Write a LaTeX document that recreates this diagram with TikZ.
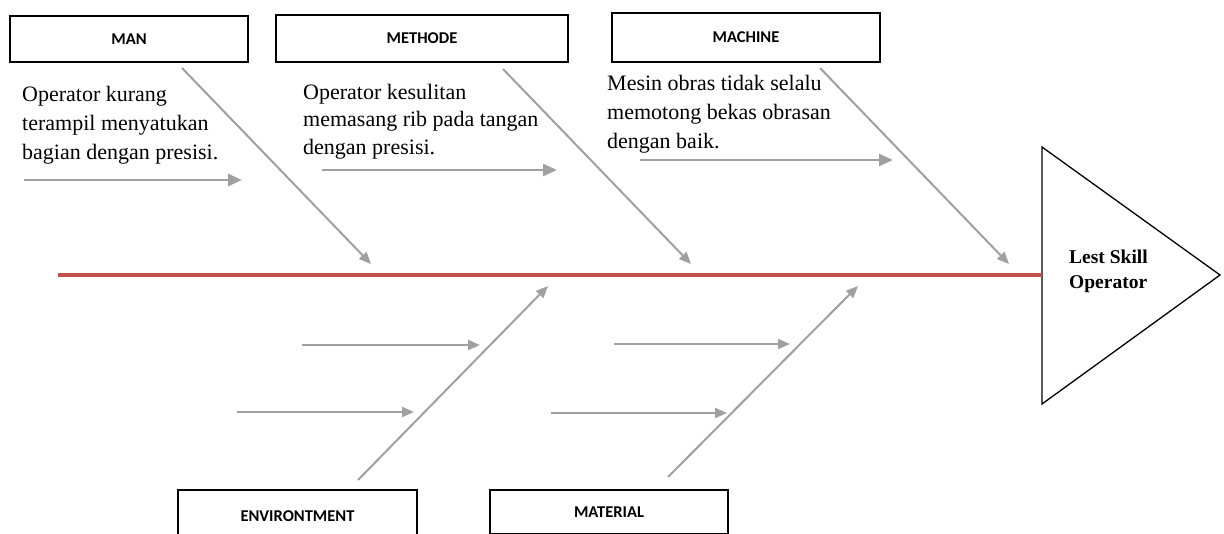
\documentclass[tikz,border=0pt]{standalone}
\usepackage{fontspec}
\setmainfont{Liberation Serif}
\newfontfamily\calib{Carlito}
\usetikzlibrary{arrows.meta}
\definecolor{spine}{HTML}{C0504D}
\definecolor{bone}{HTML}{A0A0A0}
\tikzset{
  catbox/.style={draw=black, line width=1.2pt, fill=white, inner sep=0pt, font={\calib\bfseries\fontsize{16.5}{19}\selectfont}},
  cause/.style={anchor=base west, inner sep=0pt, align=left, font={\fontsize{22}{29}\selectfont}},
  bonearrow/.style={draw=bone, line width=2pt, -{Triangle[length=12pt,width=10pt]}},
  subarrow/.style={draw=bone, line width=2.8pt, -{Triangle[length=14pt,width=12pt]}},
}
\begin{document}
\begin{tikzpicture}[x=1pt,y=-1pt]
\useasboundingbox (0,0) rectangle (1224,533);
\clip (0,0) rectangle (1224,533);
\fill[white] (0,0) rectangle (1224,533);

% head
\coordinate (t1) at (1042,147);
\coordinate (t2) at (1042,404);
\coordinate (t3) at (1220,275);
\draw[line width=1.3pt, line join=miter] (t1) -- (t3) -- (t2) -- cycle;
\node[anchor=base west, inner sep=0pt, align=left, font={\bfseries\fontsize{19.5}{25}\selectfont}] (head) at (1069,288) {Lest Skill\\Operator};

% spine
\coordinate (s0) at (58,275);
\coordinate (s1) at (1042,275);
\draw[spine, line width=4pt] (s0) -- (s1);

% category boxes
\node[catbox, minimum width=238pt, minimum height=46pt] (man) at (129,39) {MAN};
\node[catbox, minimum width=292pt, minimum height=47pt] (meth) at (422,38.5) {METHODE};
\node[catbox, minimum width=268pt, minimum height=49pt] (mach) at (746,37.5) {MACHINE};
\node[catbox, minimum width=239pt, minimum height=52pt] (env) at (297.5,516) {ENVIRONTMENT};
\node[catbox, minimum width=238pt, minimum height=44pt] (mat) at (609,512) {MATERIAL};

% cause texts (base anchor = last line baseline)
\node[cause] (tman) at (22,159.5) {Operator kurang\\terampil menyatukan\\bagian dengan presisi.};
\node[cause, font={\fontsize{22}{27.5}\selectfont}] (tmeth) at (303,154) {Operator kesulitan\\memasang rib pada tangan\\dengan presisi.};
\node[cause] (tmach) at (607,148) {Mesin obras tidak selalu\\memotong bekas obrasan\\dengan baik.};

% main bones (top)
\coordinate (a1) at (182,68);  \coordinate (b1) at (371,264);
\coordinate (a2) at (503,69);  \coordinate (b2) at (691,264);
\coordinate (a3) at (820,68);  \coordinate (b3) at (1009,264);
\draw[bonearrow] (a1) -- (b1);
\draw[bonearrow] (a2) -- (b2);
\draw[bonearrow] (a3) -- (b3);

% main bones (bottom)
\coordinate (a4) at (358,480);  \coordinate (b4) at (548,286);
\coordinate (a5) at (668,477);  \coordinate (b5) at (858,286);
\draw[bonearrow] (a4) -- (b4);
\draw[bonearrow] (a5) -- (b5);

% sub-cause arrows (top)
\coordinate (h1a) at (24,180);  \coordinate (h1b) at (242,180);
\coordinate (h2a) at (322,170); \coordinate (h2b) at (557,170);
\coordinate (h3a) at (640,160); \coordinate (h3b) at (893,160);
\draw[subarrow] (h1a) -- (h1b);
\draw[subarrow] (h2a) -- (h2b);
\draw[subarrow] (h3a) -- (h3b);

% sub-cause arrows (bottom)
\coordinate (h4a) at (302,345); \coordinate (h4b) at (480,345);
\coordinate (h5a) at (237,412); \coordinate (h5b) at (414,412);
\coordinate (h6a) at (614,344); \coordinate (h6b) at (790,344);
\coordinate (h7a) at (551,413); \coordinate (h7b) at (727,413);
\draw[bonearrow] (h4a) -- (h4b);
\draw[bonearrow] (h5a) -- (h5b);
\draw[bonearrow] (h6a) -- (h6b);
\draw[bonearrow] (h7a) -- (h7b);
\end{tikzpicture}
\end{document}
